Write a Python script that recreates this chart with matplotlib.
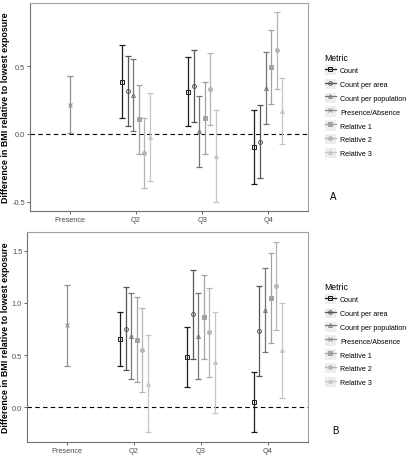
import numpy as np
import matplotlib
matplotlib.use("Agg")
import matplotlib.pyplot as plt
from matplotlib.lines import Line2D
from matplotlib.patches import Rectangle
from matplotlib.legend_handler import HandlerLine2D

plt.rcParams["font.family"] = ["Liberation Sans", "DejaVu Sans"]
plt.rcParams["axes.unicode_minus"] = False

CATEGORIES = ["Presence", "Q2", "Q3", "Q4"]
METRICS = ["Count", "Count per area", "Count per population", "Presence/Absence",
           "Relative 1", "Relative 2", "Relative 3"]
# metrics used at the quartile positions (no Presence/Absence there)
Q_METRICS = ["Count", "Count per area", "Count per population",
             "Relative 1", "Relative 2", "Relative 3"]

# panel A, rows = Q2, Q3, Q4; columns follow Q_METRICS
A_EST = [[0.387, 0.320, 0.288, 0.108, -0.140, -0.020],
         [0.313, 0.357, 0.020, 0.116, 0.333, -0.163],
         [-0.094, -0.057, 0.342, 0.493, 0.618, 0.170]]
A_LO = [[0.118, 0.059, 0.025, -0.148, -0.400, -0.350],
        [0.059, 0.091, -0.246, -0.150, 0.064, -0.500],
        [-0.370, -0.328, 0.076, 0.219, 0.335, -0.076]]
A_HI = [[0.658, 0.579, 0.557, 0.365, 0.121, 0.300],
        [0.567, 0.620, 0.283, 0.382, 0.596, 0.177],
        [0.177, 0.212, 0.608, 0.766, 0.899, 0.411]]
A_PRESENCE = [0.215, 0.005, 0.430]  # estimate, low, high

# panel B
B_EST = [[0.658, 0.753, 0.680, 0.645, 0.547, 0.226],
         [0.486, 0.893, 0.686, 0.867, 0.718, 0.438],
         [0.051, 0.734, 0.934, 1.052, 1.163, 0.547]]
B_LO = [[0.394, 0.356, 0.267, 0.238, 0.143, -0.241],
        [0.190, 0.467, 0.273, 0.464, 0.292, -0.050],
        [-0.241, 0.296, 0.531, 0.620, 0.740, 0.092]]
B_HI = [[0.918, 1.150, 1.093, 1.055, 0.950, 0.696],
        [0.772, 1.312, 1.100, 1.271, 1.140, 0.918],
        [0.337, 1.163, 1.338, 1.481, 1.589, 1.004]]
B_PRESENCE = [0.785, 0.400, 1.176]

COLORS = {
    "Count": "#1c1c1c",
    "Count per area": "#555555",
    "Count per population": "#767676",
    "Presence/Absence": "#8e8e8e",
    "Relative 1": "#a2a2a2",
    "Relative 2": "#b4b4b4",
    "Relative 3": "#c6c6c6",
}
MARKERS = {
    "Count": ("s", False),
    "Count per area": ("o", False),
    "Count per population": ("^", False),
    "Presence/Absence": ("x", True),
    "Relative 1": ("s", True),
    "Relative 2": ("o", True),
    "Relative 3": ("^", True),
}

TICK_COLOR = "#4d4d4d"
DODGE = 0.5


class KeyHandler(HandlerLine2D):
    # ggplot-like legend key: light grey box behind the line + marker
    def create_artists(self, legend, orig_handle, xdescent, ydescent,
                       width, height, fontsize, trans):
        bg = Rectangle((-xdescent, -ydescent), width, height,
                       facecolor="#ededed", edgecolor="none", transform=trans)
        arts = super().create_artists(legend, orig_handle, xdescent, ydescent,
                                      width, height, fontsize, trans)
        return [bg] + list(arts)


def draw_metric(ax, name, x, est, lo, hi):
    color = COLORS[name]
    marker, filled = MARKERS[name]
    est = np.asarray(est)
    yerr = [est - np.asarray(lo), np.asarray(hi) - est]
    ax.errorbar(x, est, yerr=yerr, fmt="none", ecolor=color,
                elinewidth=0.9, capsize=2.2, capthick=0.9, zorder=2)
    ax.plot(x, est, linestyle="none", marker=marker, markersize=2.8,
            markeredgewidth=0.7, color=color,
            markerfacecolor=color if filled else "none", zorder=3)


def draw_panel(ax, est, lo, hi, presence, yticks):
    est = np.asarray(est)
    lo = np.asarray(lo)
    hi = np.asarray(hi)
    q_pos = np.arange(1, len(CATEGORIES))
    n = len(Q_METRICS)
    for j, name in enumerate(Q_METRICS):
        offset = (j - (n - 1) / 2) * DODGE / n
        draw_metric(ax, name, q_pos + offset, est[:, j], lo[:, j], hi[:, j])
    draw_metric(ax, "Presence/Absence", [0], [presence[0]], [presence[1]], [presence[2]])

    ax.axhline(0, color="black", linestyle=(0, (4, 3)), linewidth=0.8, zorder=1)
    ax.set_xlim(-0.6, len(CATEGORIES) - 1 + 0.6)
    ax.margins(y=0.05)
    ax.set_xticks(np.arange(len(CATEGORIES)))
    ax.set_xticklabels(CATEGORIES)
    ax.set_yticks(yticks)
    ax.set_yticklabels([f"{t:.1f}" for t in yticks])
    ax.tick_params(labelsize=5.3, colors=TICK_COLOR, length=2, width=0.6, pad=1.5)
    for side in ["left", "bottom"]:
        ax.spines[side].set_color("#707070")
        ax.spines[side].set_linewidth(0.8)
    for side in ["top", "right"]:
        ax.spines[side].set_color("#a0a0a0")
        ax.spines[side].set_linewidth(0.8)
    ax.set_ylabel("Difference in BMI relative to lowest exposure",
                  fontsize=6.4, fontweight="bold", labelpad=1.5)


def add_legend(fig, anchor):
    handles = []
    for name in METRICS:
        marker, filled = MARKERS[name]
        handles.append(Line2D([], [], color=COLORS[name], linewidth=0.9,
                              marker=marker, markersize=2.6, markeredgewidth=0.7,
                              markerfacecolor=COLORS[name] if filled else "none"))
    leg = fig.legend(handles, METRICS, loc="upper left", bbox_to_anchor=anchor,
                     frameon=False, fontsize=5.1, title="Metric", title_fontsize=6.2,
                     handlelength=1.65, handleheight=1.85, handletextpad=0.55,
                     labelspacing=0.5, borderpad=0, alignment="left",
                     handler_map={Line2D: KeyHandler()})
    return leg


fig = plt.figure(figsize=(4.09, 4.6), dpi=100)
W, H = 409, 460

ax_a = fig.add_axes([30 / W, 1 - 212 / H, 278 / W, 208 / H])
draw_panel(ax_a, A_EST, A_LO, A_HI, A_PRESENCE, [-0.5, 0.0, 0.5])
add_legend(fig, (321 / W, 1 - 50 / H))
fig.text(333 / W, 1 - 197 / H, "A", fontsize=7, ha="center", va="center")

ax_b = fig.add_axes([27 / W, 1 - 443 / H, 281 / W, 210 / H])
draw_panel(ax_b, B_EST, B_LO, B_HI, B_PRESENCE, [0.0, 0.5, 1.0, 1.5])
add_legend(fig, (321 / W, 1 - 279 / H))
fig.text(335 / W, 1 - 431 / H, "B", fontsize=7, ha="center", va="center")

fig.savefig("out.png", dpi=100)
